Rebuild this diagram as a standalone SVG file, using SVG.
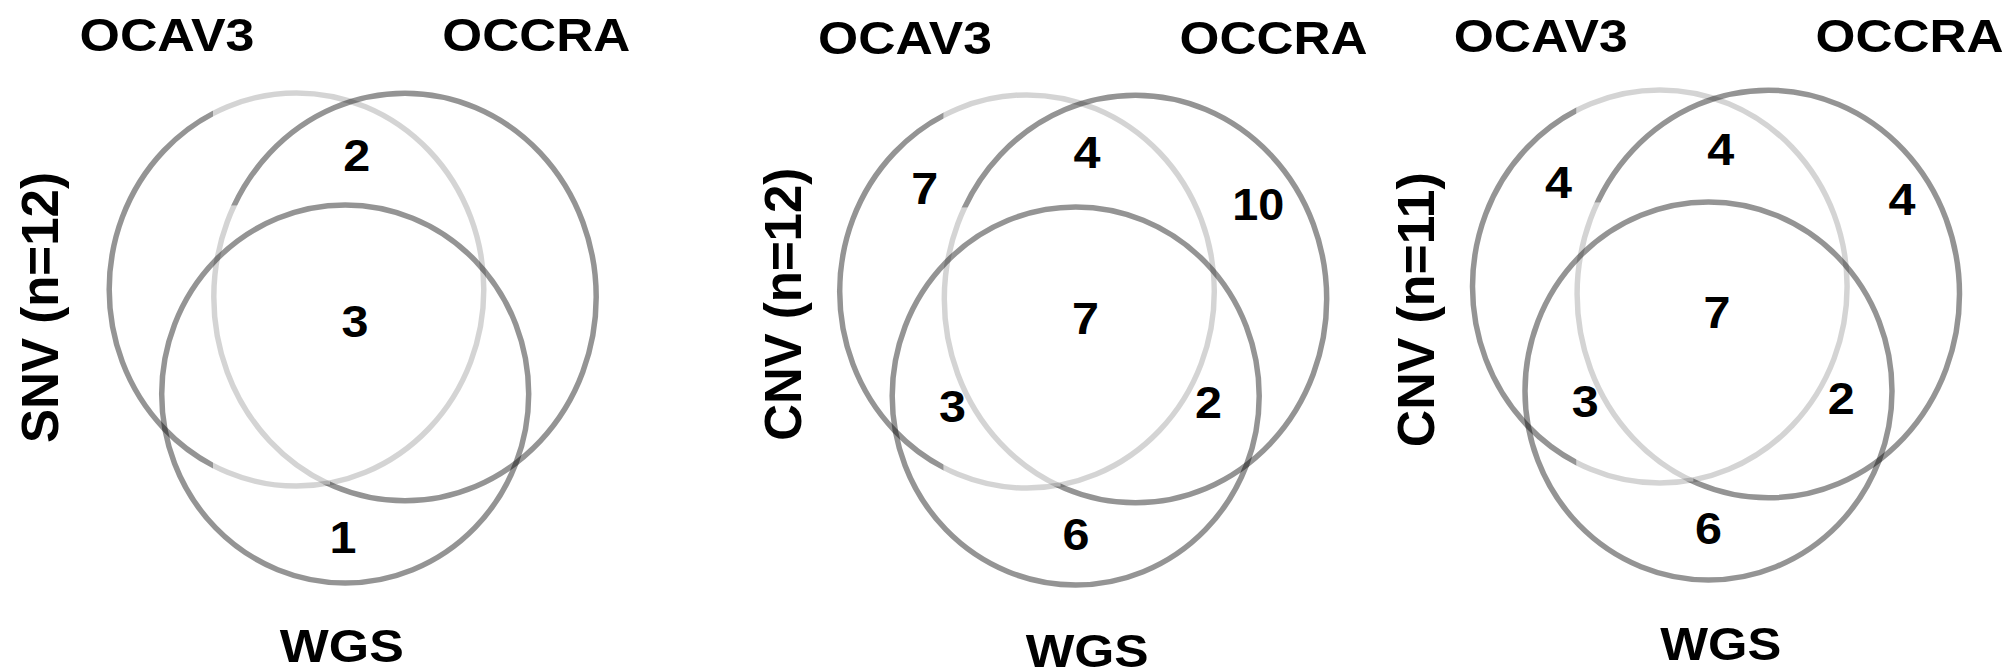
<svg xmlns="http://www.w3.org/2000/svg" width="2014" height="672" viewBox="0 0 2014 672">
<style>
.dk{fill:none;stroke:#000;stroke-opacity:0.42;stroke-width:5.5}
.lt{fill:none;stroke:#000;stroke-opacity:0.17;stroke-width:5.5}
text{font-family:"Liberation Sans",Arial,Helvetica,sans-serif;font-weight:bold;fill:#000;text-anchor:middle}
.lbl{font-size:46px}
.num{font-size:44px}
.side{font-size:51px}
</style>
<defs>
<clipPath id="cA-dark" clipPathUnits="userSpaceOnUse"><rect x="-200" y="-200" width="413" height="1000"/></clipPath>
<clipPath id="cA-light" clipPathUnits="userSpaceOnUse"><rect x="213" y="-200" width="900" height="1000"/></clipPath>
<clipPath id="cB-light" clipPathUnits="userSpaceOnUse"><rect x="0" y="205.5" width="330" height="279"/></clipPath>
<clipPath id="cB-dark" clipPathUnits="userSpaceOnUse"><path clip-rule="evenodd" d="M-200 -200H1100V1000H-200Z M0 205.5H330V484.5H0Z"/></clipPath>
<ellipse id="eA" cx="296.5" cy="289.5" rx="187.3" ry="196.6"/>
<ellipse id="eB" cx="405" cy="297" rx="191.2" ry="203.8"/>
<ellipse id="eC" cx="345.2" cy="394" rx="183.5" ry="189"/>
</defs>

<g id="panel-snv">
  <g id="snv-ocav3">
    <use href="#eA" class="dk" clip-path="url(#cA-dark)"/>
    <use href="#eA" class="lt" clip-path="url(#cA-light)"/>
    <text class="lbl" x="167" y="51.4" textLength="175" lengthAdjust="spacingAndGlyphs">OCAV3</text>
  </g>
  <g id="snv-occra">
    <use href="#eB" class="dk" clip-path="url(#cB-dark)"/>
    <use href="#eB" class="lt" clip-path="url(#cB-light)"/>
    <text class="lbl" x="536.3" y="51.4" textLength="188" lengthAdjust="spacingAndGlyphs">OCCRA</text>
  </g>
  <g id="snv-wgs">
    <use href="#eC" class="dk"/>
    <text class="lbl" x="341.8" y="662" textLength="124" lengthAdjust="spacingAndGlyphs">WGS</text>
  </g>
  <g id="snv-title"><text class="side" transform="translate(58,307.5) rotate(-90)" textLength="271" lengthAdjust="spacingAndGlyphs">SNV (n=12)</text></g>
  <g id="snv-ab"><text class="num" x="356.8" y="171.4" textLength="27" lengthAdjust="spacingAndGlyphs">2</text></g>
  <g id="snv-abc"><text class="num" x="355" y="336.5" textLength="27" lengthAdjust="spacingAndGlyphs">3</text></g>
  <g id="snv-c"><text class="num" x="343" y="553" textLength="27" lengthAdjust="spacingAndGlyphs">1</text></g>
</g>

<g id="panel-cnv12">
  <g id="cnv12-ocav3">
    <use href="#eA" class="dk" clip-path="url(#cA-dark)" transform="translate(730.5,2)"/>
    <use href="#eA" class="lt" clip-path="url(#cA-light)" transform="translate(730.5,2)"/>
    <text class="lbl" x="905" y="53.6" textLength="174" lengthAdjust="spacingAndGlyphs">OCAV3</text>
  </g>
  <g id="cnv12-occra">
    <use href="#eB" class="dk" clip-path="url(#cB-dark)" transform="translate(730.5,2)"/>
    <use href="#eB" class="lt" clip-path="url(#cB-light)" transform="translate(730.5,2)"/>
    <text class="lbl" x="1273.6" y="53.6" textLength="188" lengthAdjust="spacingAndGlyphs">OCCRA</text>
  </g>
  <g id="cnv12-wgs">
    <use href="#eC" class="dk" transform="translate(730.5,2)"/>
    <text class="lbl" x="1087.2" y="667" textLength="123" lengthAdjust="spacingAndGlyphs">WGS</text>
  </g>
  <g id="cnv12-title"><text class="side" transform="translate(801.4,304.3) rotate(-90)" textLength="273" lengthAdjust="spacingAndGlyphs">CNV (n=12)</text></g>
  <g id="cnv12-a"><text class="num" x="924.7" y="203.6" textLength="27" lengthAdjust="spacingAndGlyphs">7</text></g>
  <g id="cnv12-ab"><text class="num" x="1087.1" y="168" textLength="27" lengthAdjust="spacingAndGlyphs">4</text></g>
  <g id="cnv12-b"><text class="num" x="1258.3" y="219.5" textLength="52" lengthAdjust="spacingAndGlyphs">10</text></g>
  <g id="cnv12-abc"><text class="num" x="1085.4" y="334.3" textLength="27" lengthAdjust="spacingAndGlyphs">7</text></g>
  <g id="cnv12-ac"><text class="num" x="952.5" y="422.2" textLength="27" lengthAdjust="spacingAndGlyphs">3</text></g>
  <g id="cnv12-bc"><text class="num" x="1208.6" y="418" textLength="27" lengthAdjust="spacingAndGlyphs">2</text></g>
  <g id="cnv12-c"><text class="num" x="1076" y="549.5" textLength="27" lengthAdjust="spacingAndGlyphs">6</text></g>
</g>

<g id="panel-cnv11">
  <g id="cnv11-ocav3">
    <use href="#eA" class="dk" clip-path="url(#cA-dark)" transform="translate(1363.3,-3)"/>
    <use href="#eA" class="lt" clip-path="url(#cA-light)" transform="translate(1363.3,-3)"/>
    <text class="lbl" x="1540.7" y="52.3" textLength="174" lengthAdjust="spacingAndGlyphs">OCAV3</text>
  </g>
  <g id="cnv11-occra">
    <use href="#eB" class="dk" clip-path="url(#cB-dark)" transform="translate(1363.3,-3)"/>
    <use href="#eB" class="lt" clip-path="url(#cB-light)" transform="translate(1363.3,-3)"/>
    <text class="lbl" x="1909.5" y="52.3" textLength="188" lengthAdjust="spacingAndGlyphs">OCCRA</text>
  </g>
  <g id="cnv11-wgs">
    <use href="#eC" class="dk" transform="translate(1363.3,-3)"/>
    <text class="lbl" x="1720.7" y="660" textLength="121" lengthAdjust="spacingAndGlyphs">WGS</text>
  </g>
  <g id="cnv11-title"><text class="side" transform="translate(1434.4,309.7) rotate(-90)" textLength="275" lengthAdjust="spacingAndGlyphs">CNV (n=11)</text></g>
  <g id="cnv11-a"><text class="num" x="1558.4" y="198" textLength="27" lengthAdjust="spacingAndGlyphs">4</text></g>
  <g id="cnv11-ab"><text class="num" x="1720.7" y="165" textLength="27" lengthAdjust="spacingAndGlyphs">4</text></g>
  <g id="cnv11-b"><text class="num" x="1902" y="215" textLength="27" lengthAdjust="spacingAndGlyphs">4</text></g>
  <g id="cnv11-abc"><text class="num" x="1717" y="327.9" textLength="27" lengthAdjust="spacingAndGlyphs">7</text></g>
  <g id="cnv11-ac"><text class="num" x="1585.2" y="416.6" textLength="27" lengthAdjust="spacingAndGlyphs">3</text></g>
  <g id="cnv11-bc"><text class="num" x="1841.3" y="413.6" textLength="27" lengthAdjust="spacingAndGlyphs">2</text></g>
  <g id="cnv11-c"><text class="num" x="1708.5" y="544.3" textLength="27" lengthAdjust="spacingAndGlyphs">6</text></g>
</g>

<g id="connectors"/>
</svg>
